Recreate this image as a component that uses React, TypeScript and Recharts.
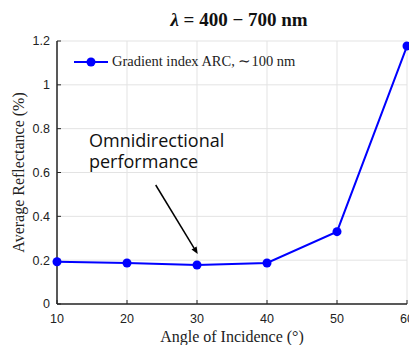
import React from "react";
import {
  LineChart,
  Line,
  XAxis,
  YAxis,
  CartesianGrid,
  ReferenceLine,
  Legend,
} from "recharts";

// angle of incidence (deg) vs average reflectance (%), lambda = 400-700 nm
const ANGLES = [10, 20, 30, 40, 50, 60];
const REFLECTANCE = [0.193, 0.187, 0.178, 0.187, 0.33, 1.177];
const X_TICKS = [10, 20, 30, 40, 50, 60];
const Y_TICKS = [0, 0.2, 0.4, 0.6, 0.8, 1, 1.2];
const SERIES_NAME = "Gradient index ARC, \u223C100 nm";
const NOTE_LINES = ["Omnidirectional", "performance"];
const ARROW_FROM = { x: 24.1, y: 0.543 };
const ARROW_TO = { x: 30.1, y: 0.228 };

const BLUE = "#0000ff";
const AXIS = "#262626";
const SERIF = "'Liberation Serif', 'Times New Roman', serif";
const SANS = "'Liberation Sans', Arial, sans-serif";

function ArrowShape(props: any) {
  const { x1, y1, x2, y2 } = props;
  if (x1 == null || x2 == null) return null;
  const a = Math.atan2(y2 - y1, x2 - x1);
  const len = 7;
  const w = 3;
  const bx = x2 - len * Math.cos(a);
  const by = y2 - len * Math.sin(a);
  const px = -Math.sin(a) * w;
  const py = Math.cos(a) * w;
  return (
    <g>
      <line x1={x1} y1={y1} x2={bx} y2={by} stroke="#000" strokeWidth={1.5} />
      <polygon
        points={`${x2},${y2} ${bx + px},${by + py} ${bx - px},${by - py}`}
        fill="#000"
      />
    </g>
  );
}

function LegendBox() {
  return (
    <div style={{ display: "flex", alignItems: "center", whiteSpace: "nowrap" }}>
      <svg width={34} height={12} style={{ display: "block" }}>
        <line x1={0} x2={34} y1={6} y2={6} stroke={BLUE} strokeWidth={2} />
        <circle cx={17} cy={6} r={4.5} fill={BLUE} />
      </svg>
      <span style={{ fontFamily: SERIF, fontSize: 14.5, color: "#222", marginLeft: 4 }}>
        {SERIES_NAME}
      </span>
    </div>
  );
}

export default function App() {
  const data = ANGLES.map((a, i) => ({ angle: a, r: REFLECTANCE[i] }));
  return (
    <div
      style={{
        position: "absolute",
        left: 0,
        top: 0,
        width: 409,
        height: 345,
        overflow: "hidden",
        background: "#fff",
      }}
    >
      <div
        style={{
          position: "absolute",
          left: 0,
          width: 478,
          top: 10,
          textAlign: "center",
          fontFamily: SERIF,
          fontWeight: "bold",
          fontSize: 19,
          lineHeight: "19px",
          color: "#111",
          whiteSpace: "nowrap",
        }}
      >
        <i>&lambda;</i> = 400 &minus; 700 nm
      </div>
      <LineChart
        width={417}
        height={345}
        data={data}
        margin={{ top: 41, right: 10, bottom: 0, left: 0 }}
      >
        <CartesianGrid stroke="#e3e3e3" strokeWidth={1} />
        <XAxis
          dataKey="angle"
          type="number"
          domain={[10, 60]}
          ticks={X_TICKS}
          height={41}
          tickSize={-4}
          tickMargin={14}
          axisLine={{ stroke: AXIS, strokeWidth: 1.5 }}
          tickLine={{ stroke: AXIS }}
          tick={{ fontFamily: SANS, fontSize: 12.5, fill: "#222" }}
          label={{
            value: "Angle of Incidence (\u00B0)",
            position: "insideBottom",
            offset: 3,
            style: { fontFamily: SERIF, fontSize: 16, fill: "#222" },
          }}
        />
        <YAxis
          type="number"
          domain={[0, 1.2]}
          ticks={Y_TICKS}
          width={57}
          tickSize={-4}
          tickMargin={11}
          tickFormatter={(v: number) => String(v)}
          axisLine={{ stroke: AXIS, strokeWidth: 1.5 }}
          tickLine={{ stroke: AXIS }}
          tick={{ fontFamily: SANS, fontSize: 12.5, fill: "#222" }}
          label={{
            value: "Average Reflectance (%)",
            angle: -90,
            position: "center",
            dx: -10,
            style: { fontFamily: SERIF, fontSize: 16, fill: "#222", textAnchor: "middle" },
          }}
        />
        <ReferenceLine
          segment={[ARROW_FROM, ARROW_TO]}
          shape={(p: any) => <ArrowShape {...p} />}
        />
        <Line
          type="linear"
          dataKey="r"
          name={SERIES_NAME}
          stroke={BLUE}
          strokeWidth={2}
          dot={{ r: 4.5, fill: BLUE, stroke: BLUE, strokeWidth: 0 }}
          activeDot={false}
          isAnimationActive={false}
        />
        <Legend
          layout="vertical"
          align="center"
          verticalAlign="middle"
          content={() => <LegendBox />}
          wrapperStyle={{ left: 74, top: 53, width: "auto", height: "auto" }}
        />
      </LineChart>
      <div
        style={{
          position: "absolute",
          left: 89,
          top: 130,
          fontFamily: "'Open Sans', 'Noto Sans', sans-serif",
          fontSize: 18,
          lineHeight: "21px",
          color: "#111",
          whiteSpace: "nowrap",
        }}
      >
        {NOTE_LINES.map((t) => (
          <div key={t}>{t}</div>
        ))}
      </div>
    </div>
  );
}
